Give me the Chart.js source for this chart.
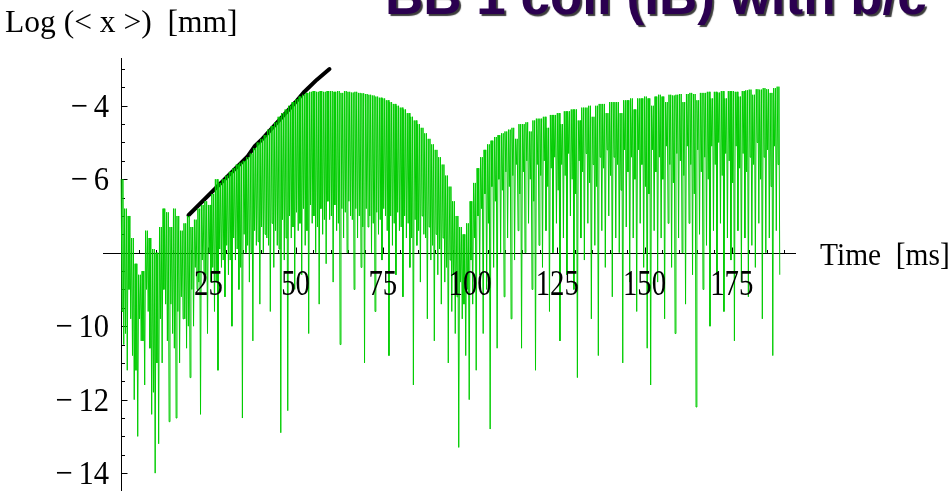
<!DOCTYPE html>
<html>
<head>
<meta charset="utf-8">
<script src="https://cdn.jsdelivr.net/npm/chart.js@4/dist/chart.umd.min.js"></script>
<style>
  html, body { margin: 0; padding: 0; background: #fff; overflow: hidden; }
  canvas { display: block; }
</style>
</head>
<body>
<canvas id="c" width="952" height="491"></canvas>
<script>
// Text drawn on the figure
const titleText = "BB 1 coil (IB) with b/c";
const yAxisTitle = "Log (< x >)  [mm]";
const xAxisTitle = "Time  [ms]";

// Labelled ticks
const xTickValues = [25, 50, 75, 100, 125, 150, 175];
const yTickValues = [-4, -6, -10, -12, -14];

// Simulated signal, two oscillations per millisecond.
// peakLog: local maxima of log|x|; dipShallowLog / dipDeepLog: the two minima in that millisecond
const sampleStartMs = 0;
const sampleStepMs = 1;
const peakLog = [
  -6.0, -6.8, -7.0, -7.6, -8.3, -8.6, -8.5, -7.4, -7.6, -7.9,
  -8.0, -7.3, -6.8, -6.9, -7.3, -6.8, -7.0, -7.4, -7.2, -7.0,
  -7.3, -7.1, -6.8, -6.7, -6.6, -6.7, -6.4, -6.0, -6.1, -6.0,
  -5.9, -5.8, -5.7, -5.6, -5.55, -5.5, -5.4, -5.3, -5.15, -5.0,
  -4.9, -4.8, -4.65, -4.55, -4.45, -4.3, -4.2, -4.1, -4.0, -3.9,
  -3.82, -3.75, -3.7, -3.65, -3.62, -3.6, -3.62, -3.6, -3.62, -3.6,
  -3.6, -3.62, -3.6, -3.65, -3.6, -3.62, -3.64, -3.62, -3.65, -3.66,
  -3.68, -3.7, -3.72, -3.75, -3.78, -3.8, -3.85, -3.9, -3.95, -4.0,
  -4.05, -4.1, -4.2, -4.3, -4.4, -4.5, -4.6, -4.75, -4.9, -5.05,
  -5.2, -5.4, -5.6, -5.9, -6.2, -6.6, -7.0, -7.3, -7.5, -7.2,
  -6.6, -6.1, -5.7, -5.4, -5.2, -5.05, -4.95, -4.85, -4.8, -4.75,
  -4.7, -4.65, -4.6, -4.9, -4.5, -4.5, -4.45, -4.7, -4.4, -4.35,
  -4.35, -4.3, -4.6, -4.25, -4.25, -4.2, -4.5, -4.15, -4.15, -4.1,
  -4.1, -4.4, -4.05, -4.05, -4.0, -4.3, -4.0, -3.95, -3.95, -4.2,
  -3.9, -3.9, -3.9, -4.2, -3.85, -3.85, -3.8, -4.1, -3.8, -3.8,
  -3.75, -3.8, -4.0, -3.75, -3.7, -3.75, -3.9, -3.7, -3.72, -3.7,
  -3.68, -3.9, -3.68, -3.65, -3.68, -3.85, -3.65, -3.65, -3.62, -3.8,
  -3.62, -3.64, -3.6, -3.8, -3.6, -3.6, -3.62, -3.75, -3.6, -3.58,
  -3.56, -3.7, -3.55, -3.56, -3.52, -3.55, -3.65, -3.52, -3.48
];
const dipShallowLog = [
  -9.6, -10.2, -9.0, -10.8, -11.2, -9.8, -10.4, -9.0, -10.6, -11.8,
  -11.0, -9.8, -9.0, -10.4, -9.4, -10.6, -9.6, -9.2, -9.8, -10.0,
  -9.0, -8.4, -8.8, -8.2, -8.6, -8.0, -8.4, -8.8, -7.9, -8.2,
  -7.8, -8.2, -7.6, -7.9, -8.4, -7.5, -7.8, -8.0, -7.4, -7.7,
  -7.3, -7.5, -7.8, -7.2, -7.4, -7.9, -7.1, -7.6, -7.0, -7.3,
  -6.9, -7.2, -6.8, -7.4, -6.7, -7.0, -7.3, -6.8, -7.1, -6.6,
  -7.0, -6.7, -7.2, -6.8, -6.9, -6.6, -7.1, -6.8, -7.0, -7.3,
  -6.8, -7.0, -7.2, -6.9, -7.1, -6.8, -7.4, -7.0, -7.2, -6.9,
  -7.3, -7.0, -7.2, -7.6, -7.1, -7.4, -7.0, -7.6, -7.3, -7.8,
  -7.5, -7.9, -7.6, -8.4, -8.2, -8.6, -9.2, -8.8, -9.4, -9.0,
  -8.2, -7.6, -7.0, -6.8, -6.4, -7.2, -6.2, -6.6, -6.0, -6.3,
  -5.8, -6.2, -5.9, -5.6, -6.4, -5.8, -5.5, -6.0, -6.6, -5.6,
  -5.9, -5.5, -6.2, -5.7, -5.4, -6.3, -5.6, -5.9, -5.3, -6.0,
  -6.4, -5.5, -5.8, -5.3, -6.1, -5.6, -6.2, -5.4, -5.7, -5.2,
  -5.9, -5.4, -5.6, -6.3, -5.2, -5.8, -5.4, -6.0, -5.2, -5.6,
  -6.2, -6.4, -5.2, -5.8, -5.4, -6.0, -5.1, -5.6, -6.1, -5.3,
  -5.5, -5.9, -5.1, -5.6, -6.4, -5.2, -5.8, -5.4, -6.0, -5.1,
  -5.6, -5.0, -5.9, -5.3, -5.5, -6.1, -5.1, -5.7, -5.3, -5.8,
  -5.4, -5.6, -5.0, -6.0, -5.4, -5.2, -6.2, -5.1, -5.6
];
const dipDeepLog = [
  -10.5, -11.2, -9.8, -12.0, -13.0, -10.4, -11.6, -9.6, -12.4, -14.0,
  -13.2, -11.0, -9.4, -12.6, -10.2, -12.5, -11.0, -9.8, -10.6, -11.4,
  -10.0, -9.0, -12.4, -8.6, -10.2, -8.8, -9.6, -11.2, -8.4, -9.2,
  -8.6, -10.0, -8.2, -9.0, -12.5, -8.0, -8.8, -10.4, -7.8, -9.4,
  -8.0, -7.6, -9.6, -8.4, -7.8, -12.9, -8.2, -12.3, -7.6, -9.0,
  -7.4, -8.6, -7.8, -10.2, -7.2, -8.0, -9.4, -7.5, -8.3, -7.1,
  -8.8, -7.4, -10.5, -7.6, -8.0, -7.0, -9.0, -7.6, -8.4, -11.0,
  -7.3, -8.0, -9.6, -7.5, -8.2, -7.0, -10.8, -7.8, -8.6, -7.4,
  -9.2, -7.6, -8.4, -11.6, -7.8, -8.8, -7.5, -9.8, -8.2, -10.4,
  -8.6, -9.4, -8.8, -11.0, -9.6, -10.2, -13.3, -9.8, -10.8, -12.0,
  -9.4, -11.2, -8.6, -10.2, -9.0, -12.8, -8.4, -10.6, -8.0, -9.2,
  -7.6, -9.8, -8.2, -7.4, -10.6, -8.0, -7.2, -9.0, -11.2, -7.8,
  -8.4, -7.4, -9.6, -8.0, -7.2, -10.4, -7.6, -8.6, -7.0, -9.0,
  -11.4, -7.6, -8.2, -7.2, -9.8, -7.8, -10.8, -7.4, -8.4, -7.0,
  -9.2, -7.6, -8.0, -11.0, -7.3, -8.8, -7.6, -9.6, -7.2, -8.4,
  -10.6, -11.6, -7.4, -8.8, -7.6, -9.8, -7.2, -8.4, -10.2, -7.6,
  -8.0, -9.4, -7.2, -8.6, -12.2, -7.5, -9.0, -7.8, -10.0, -7.4,
  -8.6, -7.2, -9.6, -7.6, -8.2, -10.4, -7.4, -8.8, -7.6, -9.2,
  -7.8, -8.4, -7.2, -9.8, -8.0, -7.6, -10.8, -7.4, -8.6
];

// Exponential-growth fit (straight line in log scale)
const fitTimeMs = [19.3, 36.3, 38.2, 40.6, 49.9, 52.3, 56.1, 59.7];
const fitLog = [-6.98, -5.37, -5.11, -4.89, -3.91, -3.64, -3.29, -3.0];

// Build {x, y} points for the library: peak, shallow minimum, peak, deep minimum
const signalPoints = [];
peakLog.forEach((p, i) => {
  const t = sampleStartMs + i * sampleStepMs;
  const q = sampleStepMs / 4;
  signalPoints.push({ x: t, y: p });
  signalPoints.push({ x: t + q, y: dipShallowLog[i] });
  signalPoints.push({ x: t + 2 * q, y: p });
  signalPoints.push({ x: t + 3 * q, y: dipDeepLog[i] });
});
const fitPoints = fitTimeMs.map((t, i) => ({ x: t, y: fitLog[i] }));

const AXIS_CROSS_X = 0;
const AXIS_CROSS_Y = -8;
const serif = '"Liberation Serif", "DejaVu Serif", serif';

// text squeezed horizontally, the way the plotting front end sets its Times labels
function squeezedText(ctx, text, x, y, sx) {
  ctx.save();
  ctx.translate(x, y);
  ctx.scale(sx, 1);
  ctx.fillText(text, 0, 0);
  ctx.restore();
}

// Axes crossing at (0, -8) with inward ticks
const axesPlugin = {
  id: 'crossingAxes',
  beforeDatasetsDraw(chart) {
    const { ctx } = chart;
    const xs = chart.scales.x, ys = chart.scales.y;
    const px0 = Math.round(xs.getPixelForValue(AXIS_CROSS_X)) + 0.5;
    const py0 = Math.round(ys.getPixelForValue(AXIS_CROSS_Y)) + 0.5;
    ctx.save();
    ctx.strokeStyle = '#000';
    ctx.lineWidth = 1;
    ctx.beginPath();
    ctx.moveTo(xs.left, py0); ctx.lineTo(xs.right, py0);
    ctx.moveTo(px0, ys.top); ctx.lineTo(px0, ys.bottom + 10);
    for (let t = 5; t <= xs.max; t += 5) {
      const px = Math.round(xs.getPixelForValue(t)) + 0.5;
      const len = t % 25 === 0 ? 6 : 3.5;
      ctx.moveTo(px, py0); ctx.lineTo(px, py0 - len);
    }
    for (let v = -14.5; v <= ys.max; v += 0.5) {
      if (v === AXIS_CROSS_Y) continue;
      const py = Math.round(ys.getPixelForValue(v)) + 0.5;
      const len = Number.isInteger(v) && v % 2 === 0 ? 6 : 3.5;
      ctx.moveTo(px0, py); ctx.lineTo(px0 + len, py);
    }
    ctx.stroke();
    ctx.restore();
  },
  afterDatasetsDraw(chart) {
    const { ctx } = chart;
    const xs = chart.scales.x, ys = chart.scales.y;
    const px0 = xs.getPixelForValue(AXIS_CROSS_X);
    const py0 = ys.getPixelForValue(AXIS_CROSS_Y);
    ctx.save();
    ctx.fillStyle = '#000';
    ctx.textBaseline = 'alphabetic';

    // x tick labels
    ctx.font = '36px ' + serif;
    ctx.textAlign = 'center';
    xTickValues.forEach(v => {
      squeezedText(ctx, String(v), xs.getPixelForValue(v), py0 + 42, 0.8);
    });

    // y tick labels
    ctx.font = '34px ' + serif;
    ctx.textAlign = 'right';
    yTickValues.forEach(v => {
      squeezedText(ctx, '\u2212\u2009' + String(Math.abs(v)), px0 - 12, ys.getPixelForValue(v) + 11, 0.9);
    });

    // axis titles
    ctx.textAlign = 'left';
    ctx.font = '32px ' + serif;
    squeezedText(ctx, yAxisTitle, 5, 32, 0.985);
    squeezedText(ctx, xAxisTitle, 820, 265, 0.92);

    // slide title with drop shadow
    ctx.font = 'bold 53px "Liberation Sans", Arial, sans-serif';
    ctx.shadowColor = 'rgba(50,50,50,0.95)';
    ctx.shadowOffsetX = 2;
    ctx.shadowOffsetY = 2;
    ctx.shadowBlur = 1;
    ctx.fillStyle = '#2b0050';
    ctx.fillText(titleText, 385, 14);
    ctx.restore();
  }
};

new Chart(document.getElementById('c'), {
  type: 'line',
  data: {
    datasets: [
      {
        label: 'signal',
        data: signalPoints,
        borderColor: '#00cc00',
        borderWidth: 1,
        pointRadius: 0,
        tension: 0,
        fill: false
      },
      {
        label: 'fit',
        data: fitPoints,
        borderColor: '#000',
        borderWidth: 4,
        borderCapStyle: 'round',
        borderJoinStyle: 'round',
        pointRadius: 0,
        tension: 0,
        fill: false
      }
    ]
  },
  options: {
    responsive: false,
    animation: false,
    devicePixelRatio: 1,
    parsing: false,
    normalized: true,
    layout: { padding: { left: 103, right: 156, top: 58, bottom: 5 } },
    plugins: { legend: { display: false }, tooltip: { enabled: false }, title: { display: false } },
    scales: {
      x: { type: 'linear', min: -5.2, max: 193.4, display: false },
      y: { type: 'linear', min: -14.35, max: -2.7, display: false }
    }
  },
  plugins: [axesPlugin]
});
</script>
</body>
</html>
